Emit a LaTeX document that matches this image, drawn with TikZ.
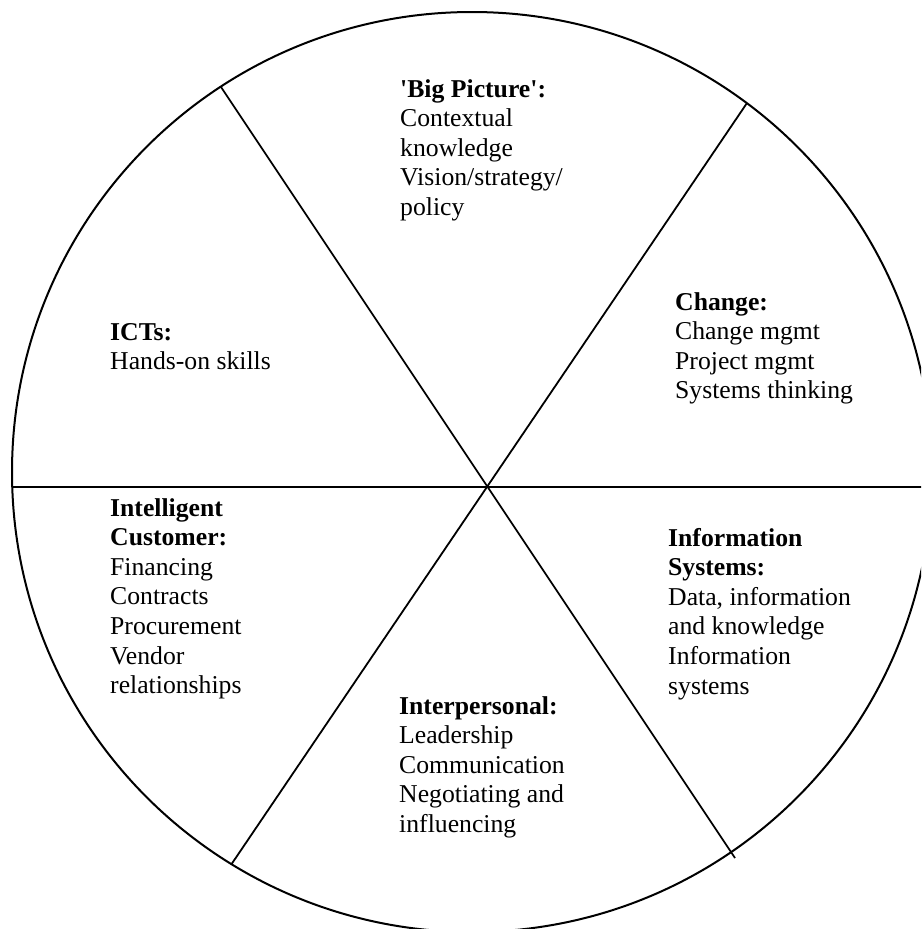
\documentclass[tikz,border=0pt]{standalone}
\usepackage{fontspec}
\setmainfont{Liberation Serif}
\begin{document}
\begin{tikzpicture}[x=1pt,y=-1pt,
  txt/.style={anchor=base west,inner sep=0pt,align=left,font=\fontsize{25.7}{29.6}\selectfont},
  ring/.style={line width=2pt},
  spoke/.style={line width=1.8pt}]
\useasboundingbox (0,0) rectangle (921,929);
\clip (0,0) rectangle (921,929);
\node[circle,draw,ring,minimum size=920pt,inner sep=0pt] (wheel) at (472,472) {};
\coordinate (ul) at (221,87);
\coordinate (lr) at (735,858);
\coordinate (ur) at (747,103);
\coordinate (ll) at (231.6,864);
\coordinate (lw) at (12,487);
\coordinate (rw) at (932,487);
\draw[spoke] (ul) -- (lr);
\draw[spoke] (ur) -- (ll);
\draw[spoke] (lw) -- (rw);
% anchor = baseline of the last line of each block
\node[txt] (big) at (400,215.4) {\textbf{\textquotesingle Big Picture\textquotesingle:}\\Contextual\\knowledge\\Vision/strategy/\\policy};
\node[txt] (ict) at (110,369.6) {\textbf{ICTs:}\\Hands-on skills};
\node[txt] (chg) at (675,398.8) {\textbf{Change:}\\Change mgmt\\Project mgmt\\Systems thinking};
\node[txt] (cust) at (110,693.6) {\textbf{Intelligent}\\\textbf{Customer:}\\Financing\\Contracts\\Procurement\\Vendor\\relationships};
\node[txt] (info) at (668,694) {\textbf{Information}\\\textbf{Systems:}\\Data, information\\and knowledge\\Information\\systems};
\node[txt] (inter) at (399,832.4) {\textbf{Interpersonal:}\\Leadership\\Communication\\Negotiating and\\influencing};
\end{tikzpicture}
\end{document}
